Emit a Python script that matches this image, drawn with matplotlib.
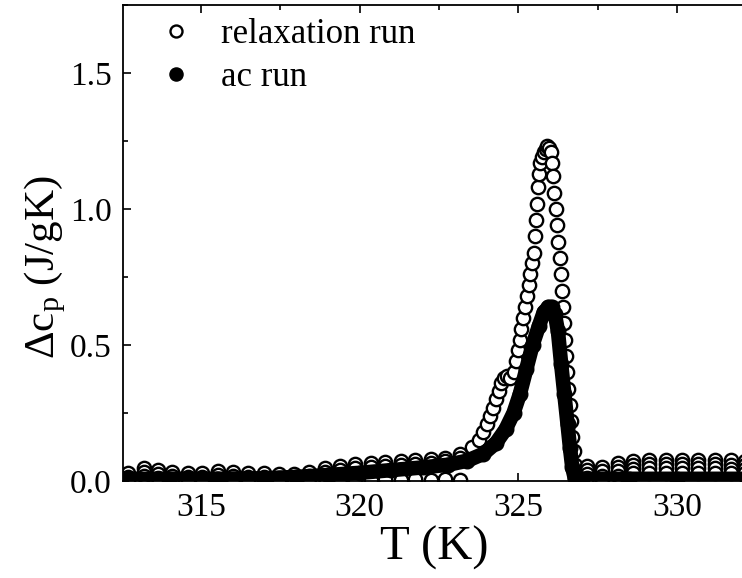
import matplotlib
matplotlib.use("Agg")
import matplotlib.pyplot as plt
from matplotlib.ticker import MultipleLocator

plt.rcParams['font.family'] = ['Liberation Serif', 'DejaVu Serif']
plt.rcParams['mathtext.fontset'] = 'custom'
plt.rcParams['mathtext.rm'] = 'Liberation Serif'
plt.rcParams['mathtext.it'] = 'Liberation Serif:italic'

# ---------------- data ----------------
# relaxation run: baseline below the transition (repeated points per step)
relax_left_T = [312.7, 313.2, 313.65, 314.1, 314.6, 315.05, 315.55, 316.0, 316.5, 317.0,
                317.45, 317.95, 318.4, 318.9, 319.4, 319.85, 320.35, 320.8, 321.3, 321.75,
                322.25, 322.7, 323.15]
relax_left_hi = [0.030, 0.046, 0.040, 0.032, 0.030, 0.030, 0.036, 0.034, 0.030, 0.030,
                 0.026, 0.024, 0.034, 0.046, 0.056, 0.062, 0.066, 0.070, 0.073, 0.076,
                 0.080, 0.086, 0.100]
relax_left_mid = [0.016, 0.032, 0.026, 0.018, 0.016, 0.016, 0.022, 0.020, 0.016, 0.016,
                  0.012, 0.010, 0.020, 0.032, 0.042, 0.048, 0.052, 0.056, 0.059, 0.062,
                  0.066, 0.072, 0.086]
relax_left_lo = [0.004, 0.018, 0.012, 0.006, 0.004, 0.004, 0.008, 0.006, 0.004, 0.004,
                 0.002, 0.000, 0.008, 0.012, 0.006, 0.004, 0.004, 0.006, 0.004, 0.006,
                 0.004, 0.006, 0.004]

# relaxation run: transition region
relax_peak_T = [323.55, 323.75, 323.9, 324.0, 324.1, 324.2, 324.3, 324.38, 324.46, 324.55,
                324.65, 324.75, 324.85, 324.92, 324.98, 325.04, 325.1, 325.16, 325.22, 325.28,
                325.33, 325.38, 325.43, 325.48, 325.52, 325.55, 325.58, 325.61, 325.64, 325.68,
                325.74, 325.8, 325.86, 325.92, 325.97, 326.02, 326.06, 326.1, 326.14, 326.18,
                326.22, 326.26, 326.3, 326.34, 326.37, 326.41, 326.44, 326.47, 326.5, 326.54,
                326.58, 326.62, 326.66, 326.7, 326.75, 326.8, 326.86]
relax_peak_v = [0.125, 0.15, 0.18, 0.21, 0.24, 0.27, 0.30, 0.33, 0.36, 0.38,
                0.385, 0.38, 0.40, 0.44, 0.48, 0.52, 0.56, 0.60, 0.64, 0.68,
                0.72, 0.76, 0.80, 0.84, 0.90, 0.96, 1.02, 1.08, 1.13, 1.17,
                1.19, 1.21, 1.22, 1.23, 1.225, 1.21, 1.17, 1.12, 1.06, 1.00,
                0.94, 0.88, 0.82, 0.76, 0.70, 0.64, 0.58, 0.52, 0.46, 0.40,
                0.34, 0.28, 0.22, 0.16, 0.11, 0.06, 0.03]

# relaxation run: baseline above the transition (repeated points per step)
relax_right_T = [327.15, 327.65, 328.15, 328.62, 329.12, 329.64, 330.16, 330.66, 331.2, 331.7, 332.15]
relax_right_hi = [0.055, 0.050, 0.065, 0.075, 0.078, 0.078, 0.078, 0.078, 0.078, 0.076, 0.075]
relax_right_mid = [0.040, 0.035, 0.050, 0.060, 0.062, 0.062, 0.062, 0.062, 0.062, 0.060, 0.060]
relax_right_lo = [0.025, 0.020, 0.035, 0.044, 0.046, 0.046, 0.046, 0.046, 0.046, 0.044, 0.044]
relax_right_lo2 = [0.010, 0.008, 0.018, 0.028, 0.030, 0.030, 0.030, 0.030, 0.030, 0.028, 0.028]

# ac run
ac_T = [312.5, 314.0, 315.5, 317.0, 318.0, 319.0, 320.0, 321.0, 322.0, 322.8,
        323.4, 323.9, 324.3, 324.6, 324.85, 325.05, 325.25, 325.45, 325.65, 325.8,
        325.95, 326.05, 326.15, 326.25, 326.35, 326.45, 326.55, 326.63, 326.7, 326.78,
        327.0, 328.5, 330.0, 332.2]
ac_v = [0.008, 0.008, 0.008, 0.010, 0.015, 0.022, 0.030, 0.040, 0.050, 0.060,
        0.075, 0.100, 0.140, 0.190, 0.250, 0.320, 0.410, 0.500, 0.570, 0.620,
        0.640, 0.640, 0.615, 0.550, 0.430, 0.320, 0.210, 0.120, 0.050, 0.010,
        0.008, 0.008, 0.008, 0.008]

x_ticks = [315, 320, 325, 330]
y_ticks = [0.0, 0.5, 1.0, 1.5]
y_tick_labels = ['0.0', '0.5', '1.0', '1.5']

# ---------------- figure ----------------
fig = plt.figure(figsize=(7.42, 5.78), dpi=100)
ax = fig.add_axes([123 / 742, 97 / 578, 623 / 742, 476 / 578])

open_style = dict(linestyle='none', marker='o', ms=9.6, mew=1.7,
                  mec='black', mfc='white', zorder=2)
rows_left = [relax_left_hi, relax_left_mid, relax_left_lo]
rows_right = [relax_right_hi, relax_right_mid, relax_right_lo, relax_right_lo2]
for row in rows_left:
    ax.plot(relax_left_T, row, **open_style)
ax.plot(relax_peak_T, relax_peak_v, label='relaxation run', **open_style)
for row in rows_right:
    ax.plot(relax_right_T, row, **open_style)

# ac run: dense filled points form a continuous band
ax.plot(ac_T, ac_v, color='black', lw=10.5, solid_capstyle='round',
        solid_joinstyle='round', zorder=3)
ax.plot(ac_T, ac_v, linestyle='none', marker='o', ms=10.5, mfc='black', mec='black',
        label='ac run', zorder=3)

ax.set_xlim(312.55, 312.55 + 623 / 31.75)
ax.set_ylim(0, 1.75)
ax.set_xticks(x_ticks)
ax.set_yticks(y_ticks)
ax.set_yticklabels(y_tick_labels)
ax.xaxis.set_minor_locator(MultipleLocator(2.5))
ax.yaxis.set_minor_locator(MultipleLocator(0.25))
ax.tick_params(which='both', direction='in', top=True, right=False, width=1.2,
               labelsize=24, pad=8)
ax.tick_params(which='major', length=6)
ax.tick_params(which='minor', length=3.5)
for s in ax.spines.values():
    s.set_linewidth(1.3)

ax.set_xlabel('T (K)', fontsize=35, labelpad=2)
ax.set_ylabel(r'$\Delta\mathrm{c}_{\mathrm{p}}$ (J/gK)', fontsize=31)
ax.yaxis.set_label_coords(-0.088, 0.45)

leg = ax.legend(loc='upper left', bbox_to_anchor=(0.058, 0.972), frameon=False,
                fontsize=25, borderpad=0, borderaxespad=0, handlelength=1.0,
                handletextpad=0.78, labelspacing=0.27, markerscale=0.9)

fig.savefig('out.png', dpi=100)
